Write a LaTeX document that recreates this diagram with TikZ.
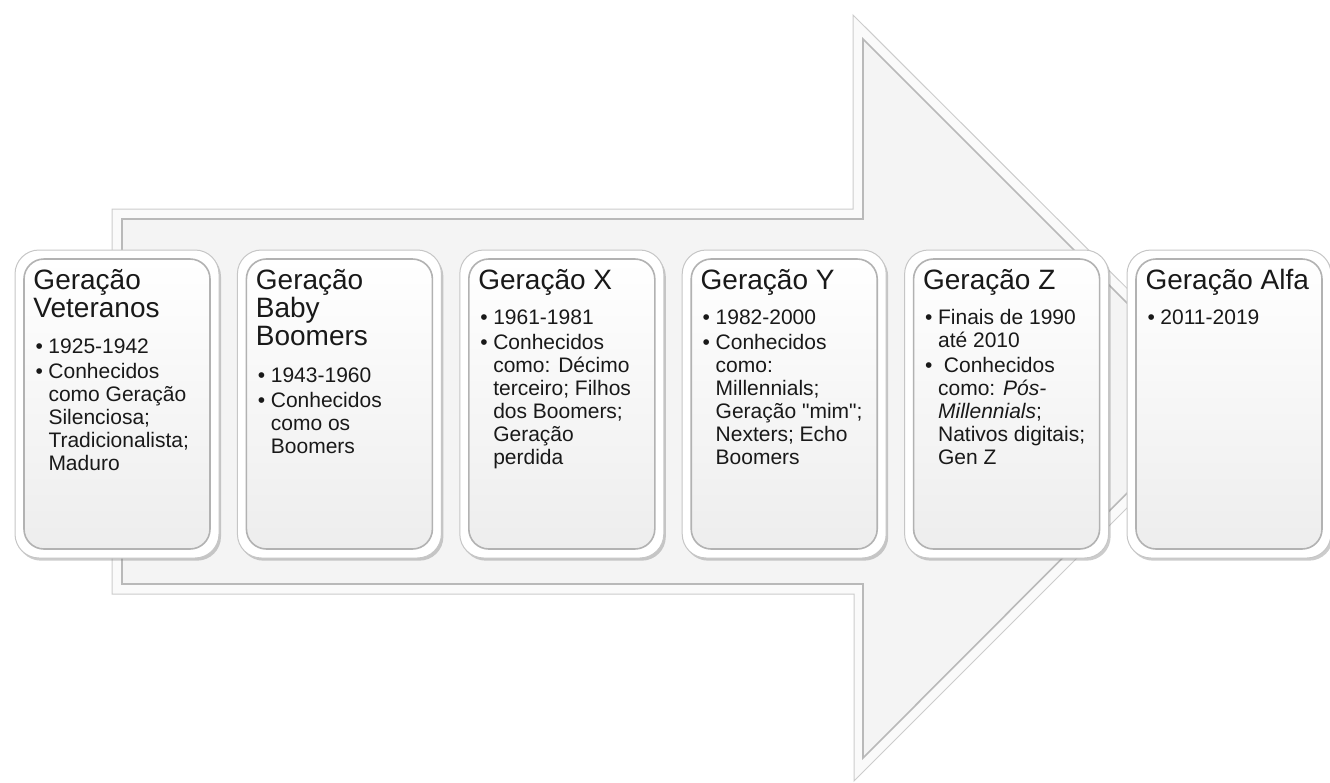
\documentclass[tikz,border=0pt]{standalone}
\usepackage{fontspec}
\setmainfont{Liberation Sans}
\usetikzlibrary{shadows}

\tikzset{every picture/.style={line width=0.75pt}}
\tikzset{
  rim/.style={draw=gray!45, fill=white, rounded corners=18pt, minimum width=153pt, minimum height=231pt, inner sep=0pt, drop shadow={opacity=0.4, shadow xshift=1.5pt, shadow yshift=-2pt}},
  pane/.style={draw=gray!60, line width=1.2pt, top color=white, middle color=white, bottom color=gray!14, rounded corners=15pt, minimum width=139.5pt, minimum height=217.5pt, inner sep=0pt},
  titulo/.style={anchor=north west, inner sep=0.75pt, align=left, font=\fontsize{21}{21}\selectfont, text=black!90},
  corpo/.style={anchor=north west, inner sep=0.75pt, align=left, font=\fontsize{15.75}{17.25}\selectfont, text=black!90}
}
\newcommand{\bul}{\makebox[9.75pt][l]{•}}
\newcommand{\ind}{\hspace*{9.75pt}}

\begin{document}
\begin{tikzpicture}[x=0.75pt,y=0.75pt,yscale=-1,xscale=1]
\useasboundingbox (0,0) rectangle (1330,782);

%Arrow outer
\draw [draw=gray!40, fill=gray!4]  (112,209) -- (853,209) -- (853,15) -- (1237,398) -- (854,781) -- (854,594) -- (112,594) -- cycle ;
%Arrow inner
\draw [draw=gray!55, line width=1.2pt, fill=gray!9]  (122,219) -- (863,219) -- (863,39) -- (1222,398) -- (863,758) -- (863,584) -- (122,584) -- cycle ;

%Boxes
\foreach \i in {1,...,6}{
  \node [rim] (g\i) at ({117+222.4*(\i-1)},404) {};
  \node [pane] (p\i) at (g\i) {};
}

% Text Node
\node [titulo] (t1) at (32,268) {Geração\\Veteranos};
% Text Node
\node [corpo] (b1) at (34,337) {\bul 1925-1942\\[1.5pt] \bul Conhecidos\\ \ind como Geração\\ \ind Silenciosa;\\ \ind Tradicionalista;\\ \ind Maduro};
% Text Node
\node [titulo] (t2) at (254.4,268) {Geração\\Baby\\Boomers};
% Text Node
\node [corpo] (b2) at (256.4,366) {\bul 1943-1960\\[1.5pt] \bul Conhecidos\\ \ind como os\\ \ind Boomers};
% Text Node
\node [titulo] (t3) at (476.8,268) {Geração X};
% Text Node
\node [corpo] (b3) at (478.8,308) {\bul 1961-1981\\[1.5pt] \bul Conhecidos\\ \ind como: Décimo\\ \ind terceiro; Filhos\\ \ind dos Boomers;\\ \ind Geração\\ \ind perdida};
% Text Node
\node [titulo] (t4) at (699.2,268) {Geração Y};
% Text Node
\node [corpo] (b4) at (701.2,308) {\bul 1982-2000\\[1.5pt] \bul Conhecidos\\ \ind como:\\ \ind Millennials;\\ \ind Geração \textquotedbl mim\textquotedbl;\\ \ind Nexters; Echo\\ \ind Boomers};
% Text Node
\node [titulo] (t5) at (921.6,268) {Geração Z};
% Text Node
\node [corpo] (b5) at (923.6,308) {\bul Finais de 1990\\ \ind até 2010\\[1.5pt] \bul\ Conhecidos\\ \ind como: \textit{Pós-}\\ \ind \textit{Millennials};\\ \ind Nativos digitais;\\ \ind Gen Z};
% Text Node
\node [titulo] (t6) at (1144,268) {Geração Alfa};
% Text Node
\node [corpo] (b6) at (1146,308) {\bul 2011-2019};

\end{tikzpicture}
\end{document}
